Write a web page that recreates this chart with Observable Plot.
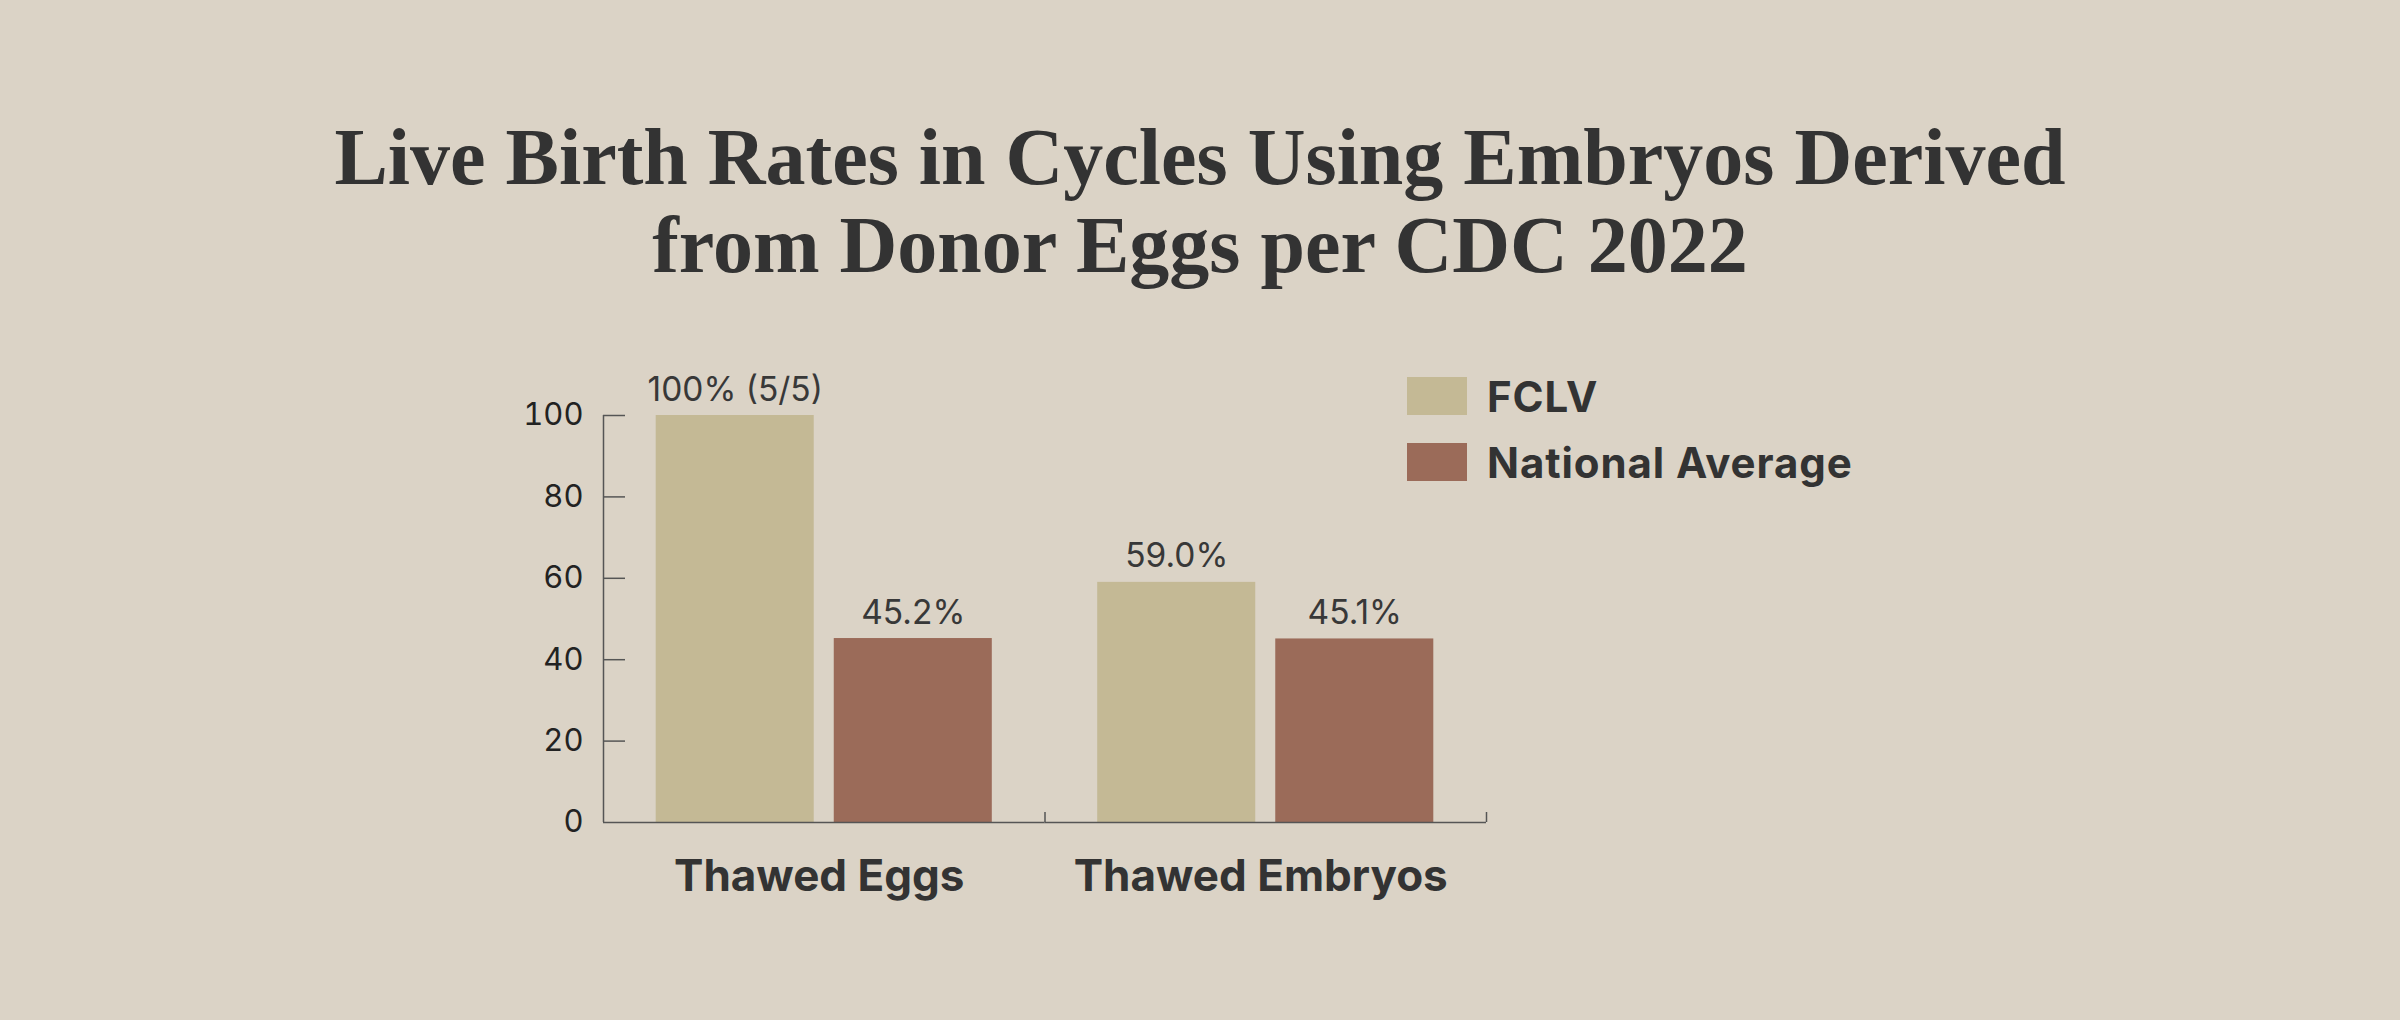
<!DOCTYPE html>
<html><head><meta charset="utf-8">
<script src="https://cdn.jsdelivr.net/npm/d3@7"></script>
<script src="https://cdn.jsdelivr.net/npm/@observablehq/plot@0.6"></script>
<style>
html,body{margin:0;padding:0;background:#dbd3c6;}
#wrap{position:relative;width:2400px;height:1020px;overflow:hidden;background:#dbd3c6;}
#title{position:absolute;left:0;top:113px;width:2400px;text-align:center;font-family:"Liberation Serif",serif;font-weight:700;font-size:80px;line-height:88px;color:#333333;margin:0;}
#chart{position:absolute;left:0;top:340px;}
#legend{position:absolute;left:1407px;top:377px;font-family:Inter,sans-serif;font-weight:700;font-size:42px;letter-spacing:0.9px;color:#333333;}
.row{display:flex;align-items:center;height:38px;margin-bottom:28px;white-space:nowrap;}
.sw{width:60px;height:38px;margin-right:20px;flex:none;}
</style></head>
<body><div id="wrap">
<h1 id="title">Live Birth Rates in Cycles Using Embryos Derived<br>from Donor Eggs per CDC 2022</h1>
<div id="legend"></div>
<div id="chart"></div>
</div>
<script>
const categories = ["Thawed Eggs", "Thawed Embryos"];
const series = ["FCLV", "National Average"];
const fclvValues = [100, 59.0];
const nationalValues = [45.2, 45.1];
const fclvLabels = ["100% (5/5)", "59.0%"];
const nationalLabels = ["45.2%", "45.1%"];
const yTicks = [0, 20, 40, 60, 80, 100];
const colors = ["#c4b995", "#9b6b59"];

const data = categories.flatMap((c, i) => [
  {category: c, series: series[0], value: fclvValues[i], label: fclvLabels[i]},
  {category: c, series: series[1], value: nationalValues[i], label: nationalLabels[i]}
]);

const W = 2400, H = 600, mL = 603, mR = 914, mT = 75, mB = 118;
const facetW = (W - mL - mR) / categories.length;
const pIn = 0.1124, pOut = 0.296;
const xb = d3.scaleBand().domain(series).range([0, facetW]).paddingInner(pIn).paddingOuter(pOut);
const edge = xb(series[0]) + xb.bandwidth() / 2;
const tickUnits = 10 * 100 / (H - mT - mB);
const axisColor = "#555555";
const yTickLen = 22;

const chart = Plot.plot({
  width: W, height: H,
  marginLeft: mL, marginRight: mR, marginTop: mT, marginBottom: mB,
  style: {background: "transparent", fontFamily: "Inter, sans-serif", color: "#333333"},
  fx: {domain: categories, padding: 0, round: false, axis: null, label: null},
  x: {domain: series, paddingInner: pIn, paddingOuter: pOut, round: false, axis: null, label: null},
  y: {domain: [0, 100], axis: null, label: null},
  color: {domain: series, range: colors},
  marks: [
    Plot.barY(data, {fx: "category", x: "series", y: "value", fill: "series"}),
    Plot.text(data, {fx: "category", x: "series", y: "value", text: "label", lineAnchor: "bottom", dy: -15, fontSize: 33.5, fill: "#383838"}),
    Plot.ruleY([0], {stroke: axisColor, strokeWidth: 1.5}),
    Plot.ruleX([categories[0]], {fx: d => d, x: () => series[0], dx: -edge, y1: 0, y2: 100, stroke: axisColor, strokeWidth: 1.5}),
    Plot.ruleX(categories, {fx: d => d, x: () => series[1], dx: edge, y1: 0, y2: tickUnits, stroke: axisColor, strokeWidth: 1.5}),
    Plot.tickY(yTicks.filter(d => d > 0), {fx: () => categories[0], y: d => d, insetRight: facetW - yTickLen, stroke: axisColor, strokeWidth: 1.5}),
    Plot.axisY({ticks: yTicks, tickSize: 0, tickPadding: 20, fontSize: 31, tickFormat: d => String(d), fill: "#222222"}),
    Plot.text(categories, {fx: d => d, text: d => d, frameAnchor: "bottom", lineAnchor: "middle", dx: -5, dy: 54, fontSize: 44, fontWeight: 700, fill: "#333333"})
  ]
});
document.getElementById("chart").appendChild(chart);

const legend = document.getElementById("legend");
series.forEach((s, i) => {
  const row = document.createElement("div");
  row.className = "row";
  const sw = document.createElement("div");
  sw.className = "sw";
  sw.style.background = colors[i];
  const t = document.createElement("span");
  t.textContent = s;
  row.appendChild(sw); row.appendChild(t);
  legend.appendChild(row);
});
</script>
</body></html>
